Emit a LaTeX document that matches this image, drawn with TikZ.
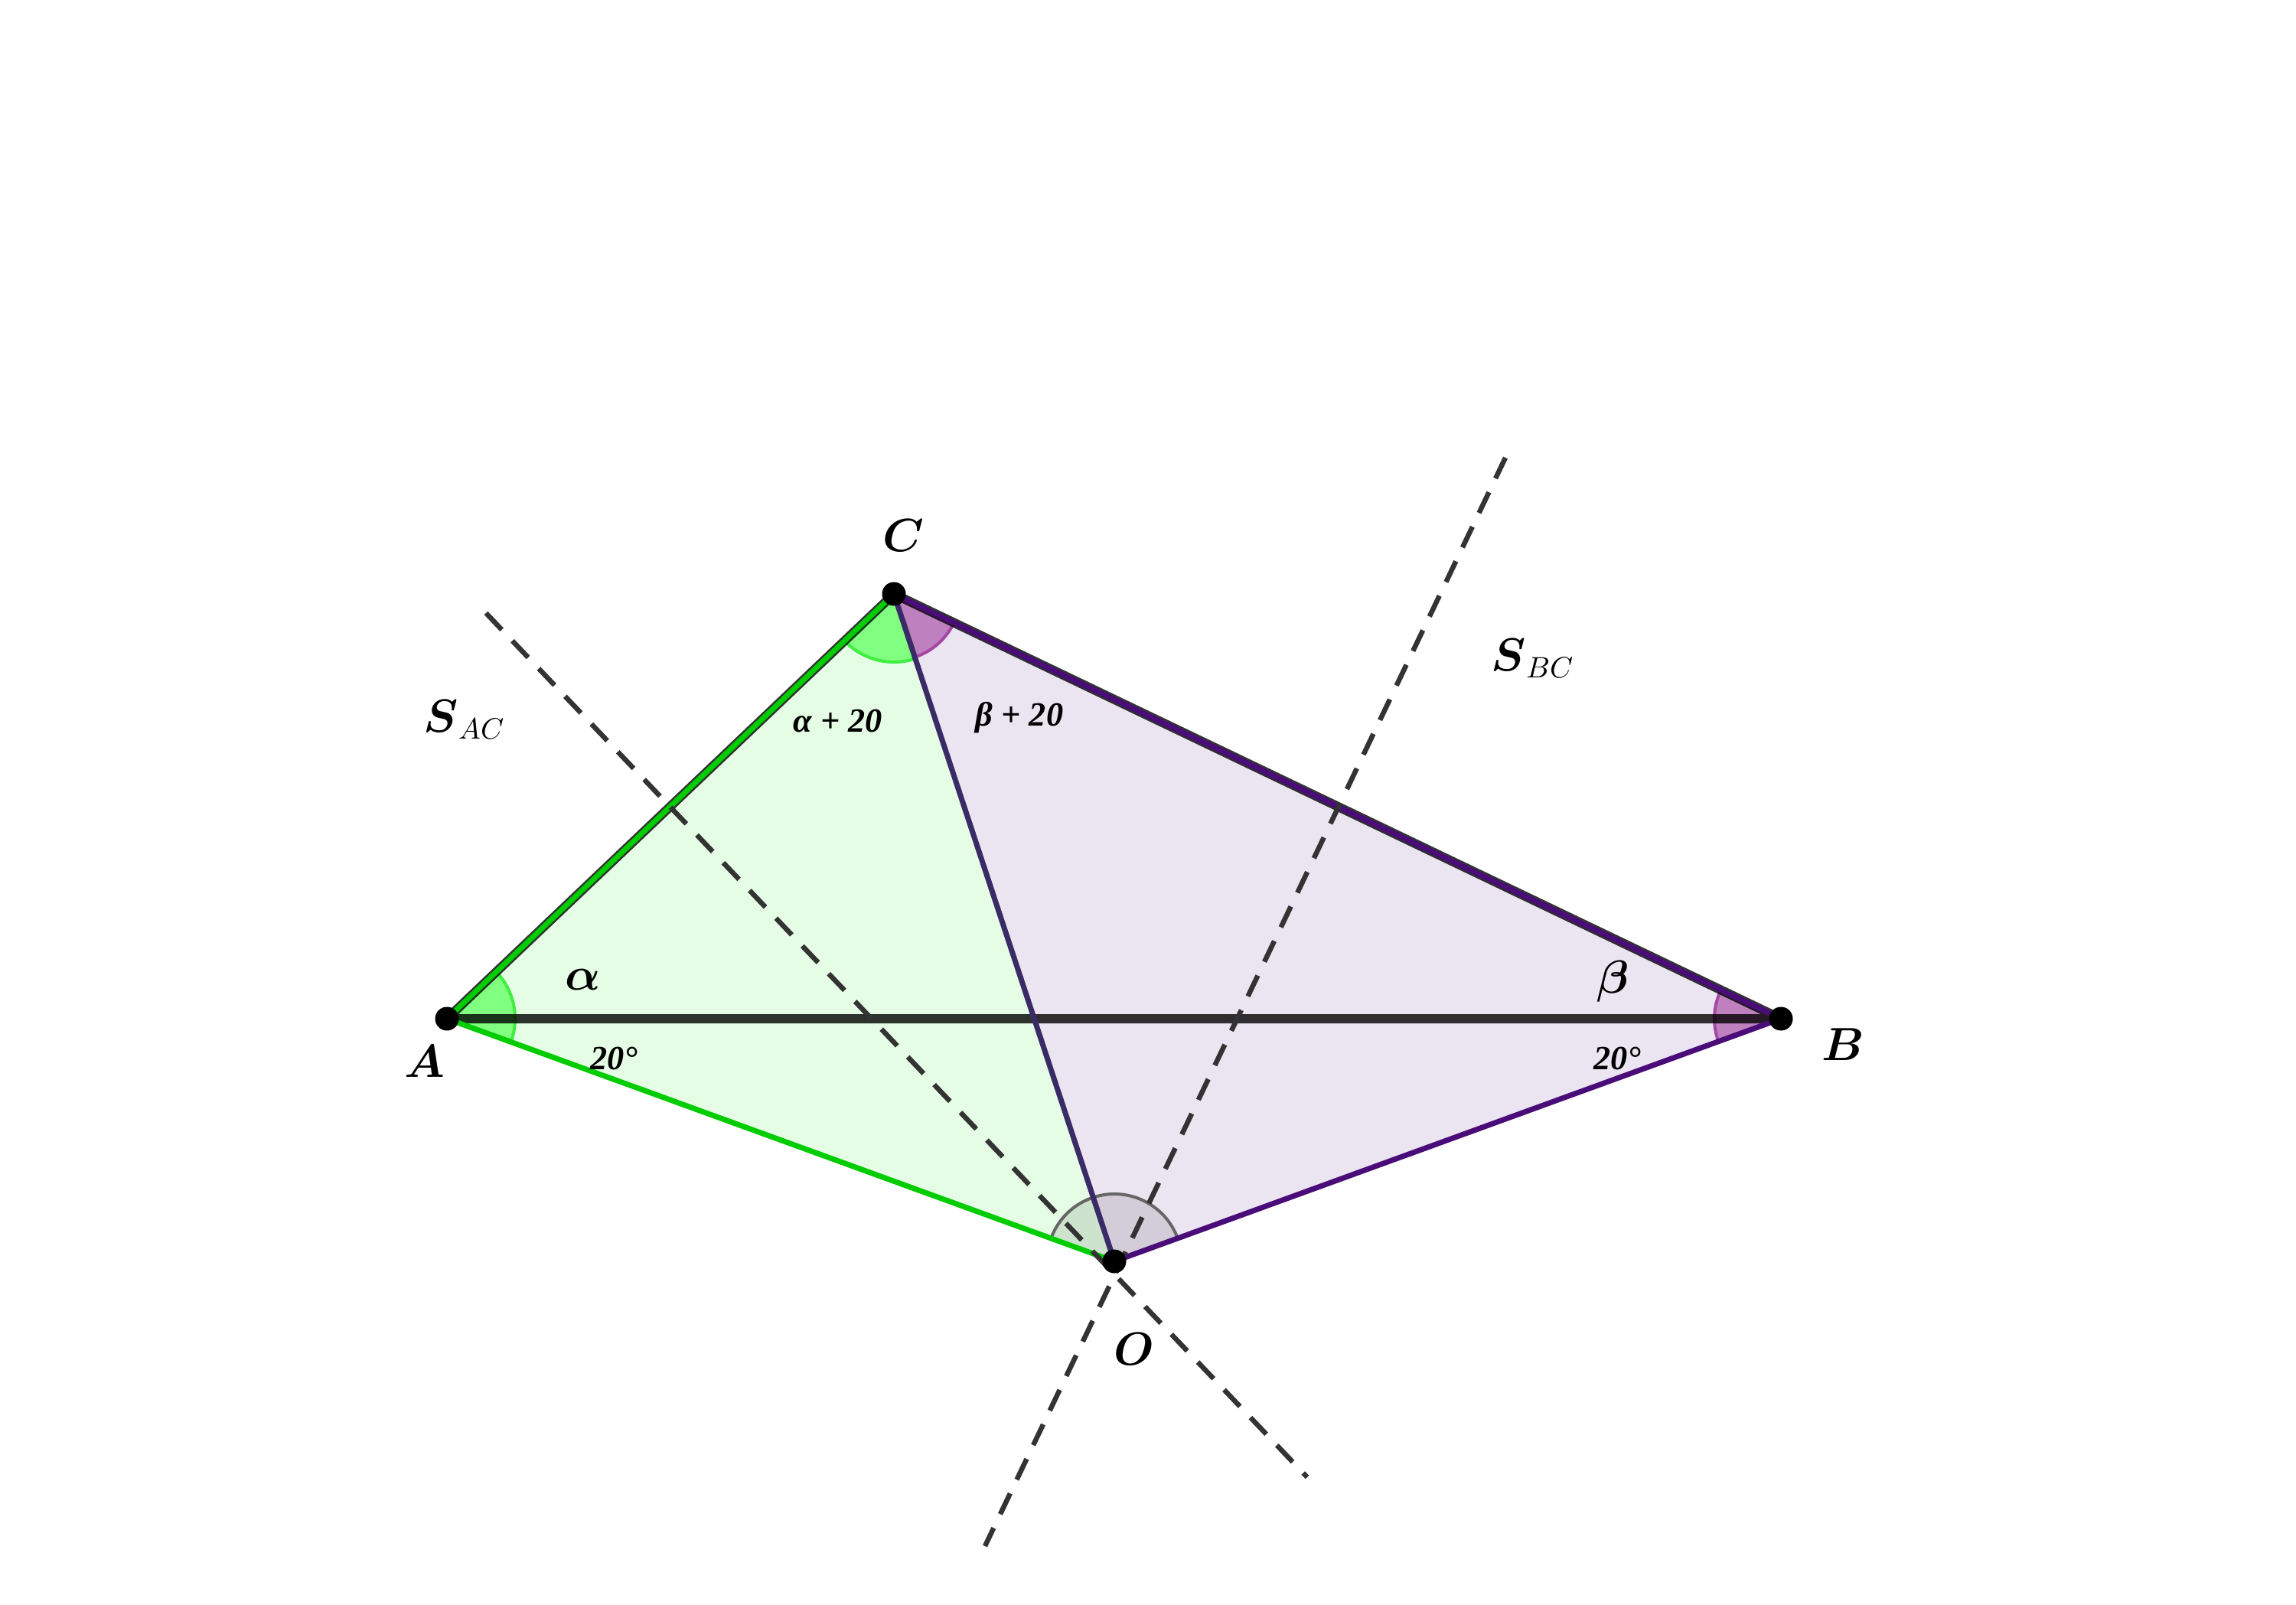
\documentclass[tikz,border=0pt]{standalone}
\usepackage{amsmath}
\usepackage{fontspec}
\newfontfamily\tnr{Liberation Serif}
\usetikzlibrary{angles}
\definecolor{gfill}{HTML}{E5FDE5}
\definecolor{pfill}{HTML}{EBE5F2}
\definecolor{gline}{HTML}{00CC00}
\definecolor{pline}{HTML}{4A0C78}
\definecolor{coline}{HTML}{3A2B66}
\definecolor{dk}{HTML}{333333}
\definecolor{gsec}{HTML}{80FF80}
\definecolor{gsecl}{HTML}{40EE40}
\definecolor{psec}{HTML}{BF80BF}
\definecolor{psecl}{HTML}{A448A4}
\begin{document}
\begin{tikzpicture}[
  dot/.style={circle,fill=black,inner sep=0pt,minimum size=0.31cm},
  tri/.style={draw=black,draw opacity=0.8,line width=0.12cm,line join=round},
  edge/.style={line width=0.07cm},
  bis/.style={draw=dk,line width=0.065cm,dash pattern=on 0.3cm off 0.2cm},
  gang/.style={fill=gsec,draw=gsecl,line width=0.04cm,angle radius=0.89cm},
  pang/.style={fill=psec,draw=psecl,line width=0.04cm,angle radius=0.87cm},
  oang/.style={fill=black,fill opacity=0.1,draw=black!60,draw opacity=1,line width=0.04cm,angle radius=0.88cm},
  vlab/.style={font=\fontsize{16}{19}\selectfont},
  tlab/.style={font=\fontsize{12.6}{15}\selectfont\tnr\bfseries\itshape},
]
\useasboundingbox (0,0) rectangle (30,-20.97);
\coordinate (A) at (5.84,-13.31);
\coordinate (B) at (23.27,-13.31);
\coordinate (C) at (11.68,-7.76);
\coordinate (O) at (14.56,-16.48);
\coordinate (s1) at (6.35,-8.01);
\coordinate (s2) at (17.08,-19.30);
\coordinate (t1) at (19.67,-5.98);
\coordinate (t2) at (12.87,-20.20);
% polygon fills
\fill[gfill] (A) -- (C) -- (O) -- cycle;
\fill[pfill] (B) -- (C) -- (O) -- cycle;
% angle sectors
\pic[gang] {angle = O--A--C};
\pic[gang] {angle = A--C--O};
\pic[pang] {angle = O--C--B};
\pic[pang] {angle = C--B--O};
\pic[oang] {angle = B--O--A};
% triangle ABC
\draw[tri] (A) -- (B) -- (C) -- cycle;
% coloured edges
\draw[edge,gline] (A) -- (C);
\draw[edge,gline] (A) -- (O);
\draw[edge,pline] (C) -- (B);
\draw[edge,pline] (O) -- (B);
\draw[edge,coline] (C) -- (O);
% perpendicular bisectors
\draw[bis] (s1) -- (s2);
\draw[bis] (t1) -- (t2);
% points
\node[dot] (dA) at (A) {};
\node[dot] (dB) at (B) {};
\node[dot] (dC) at (C) {};
\node[dot] (dO) at (O) {};
% labels
\node[vlab] (lC) at (11.80,-7.00) {$\boldsymbol{C}$};
\node[vlab] (lO) at (14.82,-17.63) {$\boldsymbol{O}$};
\node[vlab] (lA) at (5.55,-13.87) {$\boldsymbol{A}$};
\node[vlab] (lB) at (24.08,-13.65) {$\boldsymbol{B}$};
\node[vlab] (lal) at (7.62,-12.80) {$\boldsymbol{\alpha}$};
\node[vlab] (lbe) at (21.08,-12.82) {$\boldsymbol{\beta}$};
\node[vlab] (lsac) at (6.07,-9.40) {$\boldsymbol{S}_{AC}$};
\node[vlab] (lsbc) at (20.03,-8.60) {$\boldsymbol{S}_{BC}$};
\node[tlab] (l20a) at (8.02,-13.83) {20°};
\node[tlab] (l20b) at (21.13,-13.83) {20°};
\node[tlab] (lap) at (10.95,-9.42) {α + 20};
\node[tlab] (lbp) at (13.32,-9.38) {β + 20};
\end{tikzpicture}
\end{document}
